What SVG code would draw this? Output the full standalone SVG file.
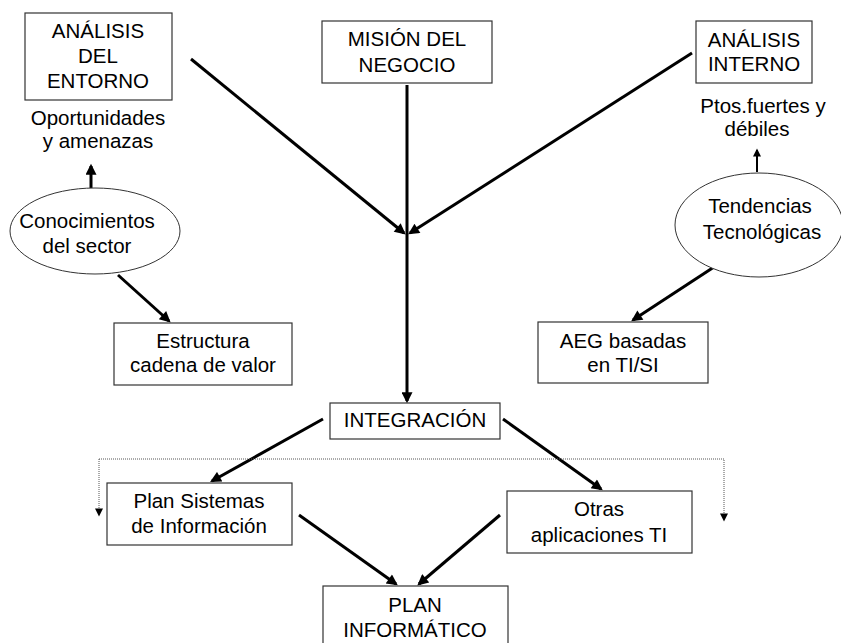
<svg xmlns="http://www.w3.org/2000/svg" width="841" height="643" viewBox="0 0 841 643">
<defs>
<style>
text{font-family:"Liberation Sans",Arial,sans-serif;font-size:20.5px;fill:#000;text-anchor:middle}
.box{fill:#fff;stroke:#333;stroke-width:1.2}
.el{fill:#fff;stroke:#333;stroke-width:1}
.c{stroke:#000;stroke-width:3;fill:none}
.thin{stroke:#000;stroke-width:2;fill:none}
.dot{stroke:#555;stroke-width:1;stroke-dasharray:1 1;fill:none}
</style>
<marker id="ah" viewBox="0 0 10 10" refX="8" refY="5" markerWidth="13" markerHeight="11" markerUnits="userSpaceOnUse" orient="auto">
<path d="M0,0 L10,5 L0,10 z" fill="#000"/>
</marker>
<marker id="as" viewBox="0 0 10 10" refX="8" refY="5" markerWidth="9" markerHeight="8" markerUnits="userSpaceOnUse" orient="auto">
<path d="M0,0 L10,5 L0,10 z" fill="#000"/>
</marker>
</defs>
<rect width="841" height="643" fill="#fff"/>

<g id="connectors">
<line class="c" x1="191" y1="59" x2="404" y2="233" marker-end="url(#ah)"/>
<line class="c" x1="692" y1="53" x2="410" y2="233" marker-end="url(#ah)"/>
<line class="c" x1="407" y1="85" x2="407" y2="401" marker-end="url(#ah)"/>
<line class="c" x1="91" y1="188" x2="91" y2="166" marker-end="url(#ah)"/>
<line class="c" x1="118" y1="275" x2="169" y2="321" marker-end="url(#ah)"/>
<line class="thin" x1="757" y1="172" x2="757" y2="150" marker-end="url(#as)"/>
<line class="c" x1="714" y1="267" x2="633" y2="320" marker-end="url(#ah)"/>
<line class="c" x1="323" y1="419" x2="212" y2="481" marker-end="url(#ah)"/>
<line class="c" x1="503" y1="419" x2="601" y2="489" marker-end="url(#ah)"/>
<line class="c" x1="299" y1="515" x2="396" y2="584" marker-end="url(#ah)"/>
<line class="c" x1="500" y1="515" x2="419" y2="584" marker-end="url(#ah)"/>
<polyline class="dot" points="99,459 724,459 724,520" marker-end="url(#as)"/>
<line class="dot" x1="99" y1="459" x2="99" y2="515" marker-end="url(#as)"/>
</g>

<g id="analisis-entorno">
<rect class="box" x="25" y="13" width="147" height="87"/>
<text x="98" y="38">ANÁLISIS</text>
<text x="98" y="63">DEL</text>
<text x="98" y="88">ENTORNO</text>
</g>
<g id="oportunidades">
<text x="98" y="125">Oportunidades</text>
<text x="98" y="148">y amenazas</text>
</g>
<g id="mision">
<rect class="box" x="322" y="21" width="170" height="62"/>
<text x="407" y="46">MISIÓN DEL</text>
<text x="407" y="72">NEGOCIO</text>
</g>
<g id="analisis-interno">
<rect class="box" x="696" y="21" width="116" height="62"/>
<text x="754" y="47">ANÁLISIS</text>
<text x="754" y="71">INTERNO</text>
</g>
<g id="ptos">
<text x="763" y="113">Ptos.fuertes  y</text>
<text x="757" y="136">débiles</text>
</g>
<g id="conocimientos">
<ellipse class="el" cx="95" cy="231" rx="85" ry="43"/>
<text x="87" y="228">Conocimientos</text>
<text x="87" y="253">del sector</text>
</g>
<g id="tendencias">
<ellipse class="el" cx="759" cy="225" rx="84" ry="52"/>
<text x="760" y="213">Tendencias</text>
<text x="762" y="239">Tecnológicas</text>
</g>
<g id="estructura">
<rect class="box" x="114" y="323" width="178" height="62"/>
<text x="203" y="348">Estructura</text>
<text x="203" y="372">cadena de valor</text>
</g>
<g id="aeg">
<rect class="box" x="538" y="322" width="170" height="61"/>
<text x="623" y="348">AEG basadas</text>
<text x="623" y="372">en TI/SI</text>
</g>
<g id="integracion">
<rect class="box" x="330" y="403" width="170" height="36"/>
<text x="415" y="427">INTEGRACIÓN</text>
</g>
<g id="plan-si">
<rect class="box" x="107" y="483" width="185" height="62"/>
<text x="199" y="508">Plan Sistemas</text>
<text x="199" y="533">de Información</text>
</g>
<g id="otras">
<rect class="box" x="507" y="491" width="185" height="62"/>
<text x="599" y="516">Otras</text>
<text x="599" y="542">aplicaciones  TI</text>
</g>
<g id="plan-informatico">
<rect class="box" x="323" y="586" width="185" height="70"/>
<text x="415" y="612">PLAN</text>
<text x="415" y="637">INFORMÁTICO</text>
</g>
</svg>
